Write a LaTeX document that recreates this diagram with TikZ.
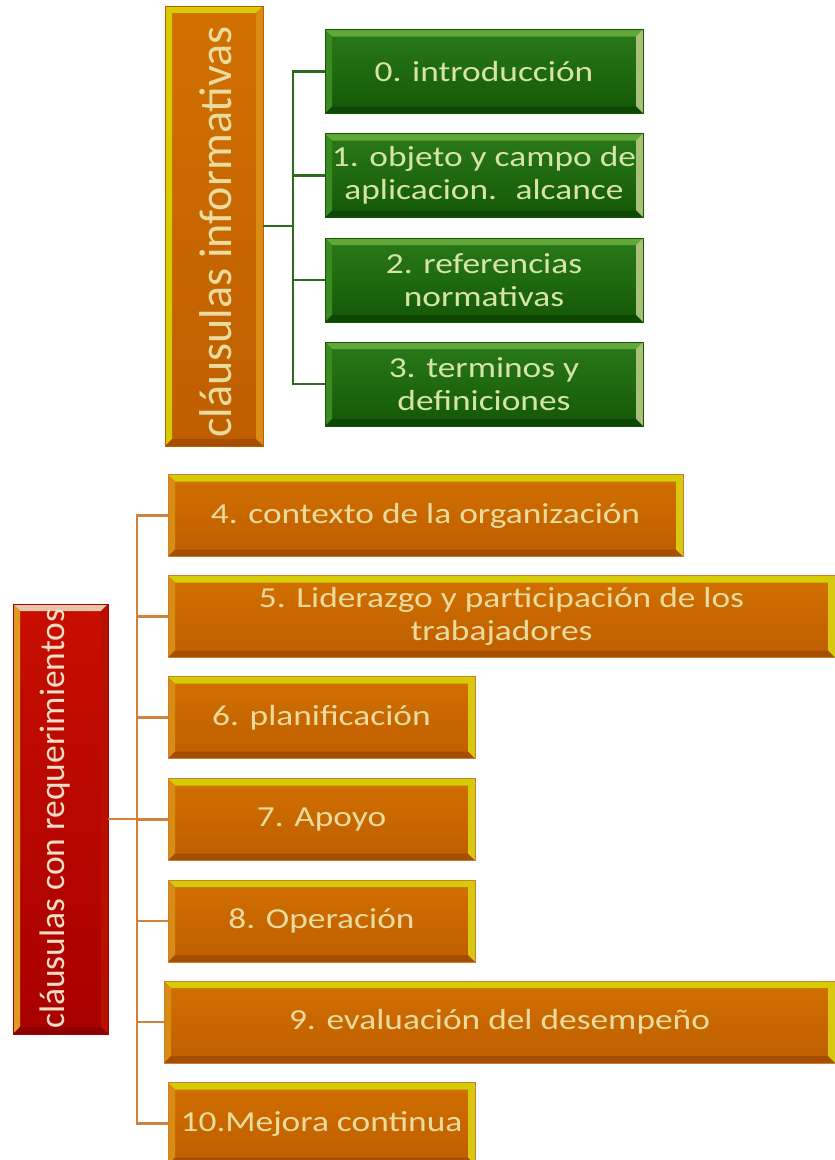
\documentclass[tikz,border=0pt]{standalone}
\usepackage{fontspec}
\setmainfont{Carlito}[FakeStretch=1.22]
\newfontfamily\sidefont{Carlito}

% palette
\definecolor{gfillT}{HTML}{2A7A18}
\definecolor{gfillB}{HTML}{145806}
\definecolor{gbevT}{HTML}{62A838}
\definecolor{gbevL}{HTML}{3A8A22}
\definecolor{gbevR}{HTML}{A8C078}
\definecolor{gbevB}{HTML}{0E4604}
\definecolor{gtext}{HTML}{D6E4AA}
\definecolor{ofillT}{HTML}{D27000}
\definecolor{ofillB}{HTML}{BE5E00}
\definecolor{obevT}{HTML}{D6CC06}
\definecolor{obevL}{HTML}{D88C12}
\definecolor{obevR}{HTML}{D8C810}
\definecolor{obevB}{HTML}{A64E00}
\definecolor{otext}{HTML}{EADC9E}
\definecolor{rfillT}{HTML}{C80E00}
\definecolor{rfillB}{HTML}{A80000}
\definecolor{rbevT}{HTML}{E2C8A8}
\definecolor{rbevL}{HTML}{E09A20}
\definecolor{rbevR}{HTML}{B81000}
\definecolor{rbevB}{HTML}{8C0000}
\definecolor{rtext}{HTML}{F2DCC8}
\definecolor{lgreen}{HTML}{2D6A1C}
\definecolor{lorange}{HTML}{D2803A}

\newcommand\bevw{7pt}

\tikzset{
  bevel/.style n args={4}{path picture={
    \fill[#1] (path picture bounding box.north west) -- (path picture bounding box.north east)
      -- ([xshift=-\bevw,yshift=-\bevw]path picture bounding box.north east)
      -- ([xshift=\bevw,yshift=-\bevw]path picture bounding box.north west) -- cycle;
    \fill[#2] (path picture bounding box.north west)
      -- ([xshift=\bevw,yshift=-\bevw]path picture bounding box.north west)
      -- ([xshift=\bevw,yshift=\bevw]path picture bounding box.south west)
      -- (path picture bounding box.south west) -- cycle;
    \fill[#3] (path picture bounding box.north east)
      -- ([xshift=-\bevw,yshift=-\bevw]path picture bounding box.north east)
      -- ([xshift=-\bevw,yshift=\bevw]path picture bounding box.south east)
      -- (path picture bounding box.south east) -- cycle;
    \fill[#4] (path picture bounding box.south west)
      -- ([xshift=\bevw,yshift=\bevw]path picture bounding box.south west)
      -- ([xshift=-\bevw,yshift=\bevw]path picture bounding box.south east)
      -- (path picture bounding box.south east) -- cycle;
  }},
  txtbox/.style={rectangle, inner sep=0pt, align=center,
    font=\fontsize{29}{33}\selectfont, minimum height=82},
  greenbox/.style={txtbox, minimum width=318, minimum height=84,
    top color=gfillT, bottom color=gfillB, draw=gfillB, line width=0.6pt,
    text=gtext, bevel={gbevT}{gbevL}{gbevR}{gbevB}},
  orangebox/.style={txtbox, top color=ofillT, bottom color=ofillB,
    draw=ofillB!80!white, line width=0.6pt, text=otext,
    bevel={obevT}{obevL}{obevR}{obevB}},
  topbox/.style={rectangle, inner sep=0pt, top color=ofillT, bottom color=ofillB,
    draw=ofillB, line width=0.6pt, bevel={obevT}{obevT}{obevL}{obevB}},
  redbox/.style={rectangle, inner sep=0pt, top color=rfillT, bottom color=rfillB,
    draw=rfillB, line width=0.6pt, bevel={rbevT}{rbevL}{rbevR}{rbevB}},
  sidetext/.style={rotate=90, anchor=base west, inner sep=0pt},
  gline/.style={draw=lgreen, line width=2.5pt},
  oline/.style={draw=lorange, line width=2.6pt},
}

\begin{document}
\begin{tikzpicture}[x=1pt,y=-1pt]
\path[use as bounding box, clip] (0,0) rectangle (835,1160);
\fill[white] (0,0) rectangle (835,1160);

% informative clauses
\node[topbox, minimum width=98, minimum height=440] (info) at (214,226) {};
\node[sidetext, text=otext, font=\sidefont\fontsize{46}{50}\selectfont] (infotxt) at (231,438) {cláusulas informativas};

\node[greenbox] (g0) at (484,71.5) {0. introducción};
\node[greenbox] (g1) at (484,175.5) {1. objeto y campo de\\aplicacion.~ alcance};
\node[greenbox] (g2) at (484,280) {2. referencias\\normativas};
\node[greenbox] (g3) at (484,384) {3. terminos y\\definiciones};

\coordinate (gt) at (293,0);
\draw[gline] (info.east) -- (gt |- info.east);
\draw[gline] (g0.west) -- (gt |- g0.west) -- (gt |- g3.west) -- (g3.west);
\draw[gline] (g1.west) -- (gt |- g1.west);
\draw[gline] (g2.west) -- (gt |- g2.west);

% clauses with requirements
\node[redbox, minimum width=95, minimum height=430] (req) at (60.5,819) {};
\node[sidetext, text=rtext, font=\sidefont\fontsize{35.5}{40}\selectfont] (reqtxt) at (64,1029) {cláusulas con requerimientos};

\node[orangebox, minimum width=515] (c4) at (425.5,515.5) {4. contexto de la organización};
\node[orangebox, minimum width=667] (c5) at (501.5,616.5) {5. Liderazgo y participación de los\\trabajadores};
\node[orangebox, minimum width=307] (c6) at (321.5,717.5) {6. planificación};
\node[orangebox, minimum width=307] (c7) at (321.5,819.5) {7. Apoyo};
\node[orangebox, minimum width=307] (c8) at (321.5,921) {8. Operación};
\node[orangebox, minimum width=671] (c9) at (499.5,1022) {9. evaluación del desempeño};
\node[orangebox, minimum width=307] (c10) at (321.5,1123.5) {10.Mejora continua};

\coordinate (ot) at (137,0);
\draw[oline] (req.east) -- (ot |- req.east);
\draw[oline] (c4.west) -- (ot |- c4.west) -- (ot |- c10.west) -- (c10.west);
\foreach \n in {c5,c6,c7,c8,c9}
  \draw[oline] (\n.west) -- (ot |- \n.west);
\end{tikzpicture}
\end{document}
